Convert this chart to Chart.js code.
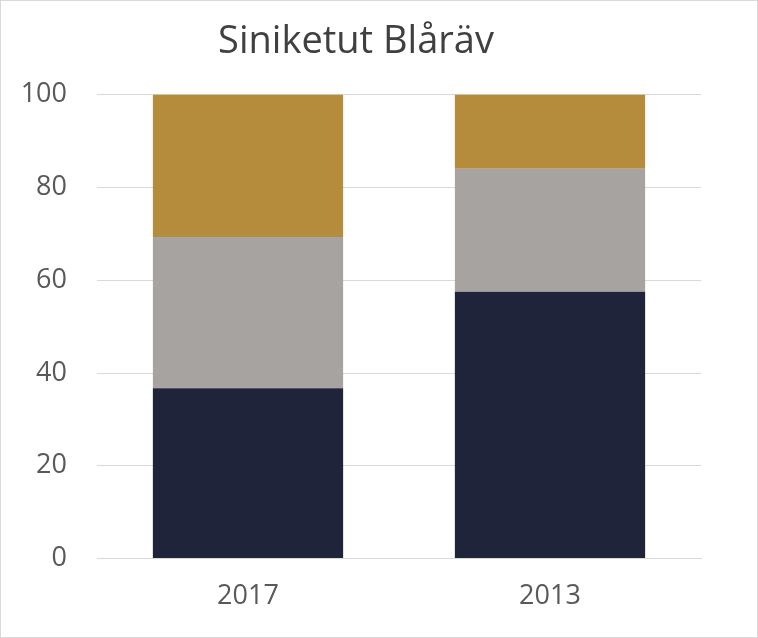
<!DOCTYPE html>
<html>
<head>
<meta charset="utf-8">
<script src="https://cdn.jsdelivr.net/npm/chart.js@4"></script>
<style>
  html, body { margin: 0; padding: 0; background: #fff; }
  #wrap { width: 756px; height: 636px; border: 1px solid #d9d9d9; }
</style>
</head>
<body>
<div id="wrap"><canvas id="c" width="756" height="636"></canvas></div>
<script>
const years = ['2017', '2013'];
const darkVals = [36.7, 57.5];
const grayVals = [32.6, 26.5];
const goldVals = [30.7, 16.0];

new Chart(document.getElementById('c'), {
  type: 'bar',
  data: {
    labels: years,
    datasets: [
      { data: darkVals, backgroundColor: '#20243a' },
      { data: grayVals, backgroundColor: '#a6a3a1' },
      { data: goldVals, backgroundColor: '#b58b3c' },
    ],
  },
  options: {
    responsive: false, animation: false,
    layout: { padding: { left: 10, right: 56, top: 18, bottom: 10 } },
    plugins: {
      legend: { display: false },
      tooltip: { enabled: false },
      title: {
        display: true, text: 'Siniketut Blåräv', color: '#404040',
        font: { family: 'Open Sans', size: 38, weight: 'normal' },
        padding: { top: 0, bottom: 30 },
      },
    },
    datasets: { bar: { categoryPercentage: 0.63, barPercentage: 1 } },
    scales: {
      x: {
        stacked: true,
        grid: { display: false },
        border: { color: '#d9d9d9' },
        ticks: { color: '#595959', font: { family: 'Open Sans', size: 27 }, padding: 14 },
      },
      y: {
        stacked: true, min: 0, max: 100,
        afterFit: (s) => { s.width = 86; },
        grid: { color: '#d9d9d9', drawTicks: false },
        border: { display: false },
        ticks: { stepSize: 20, color: '#595959', font: { family: 'Open Sans', size: 27 }, padding: 30 },
      },
    },
  },
});
</script>
</body>
</html>
